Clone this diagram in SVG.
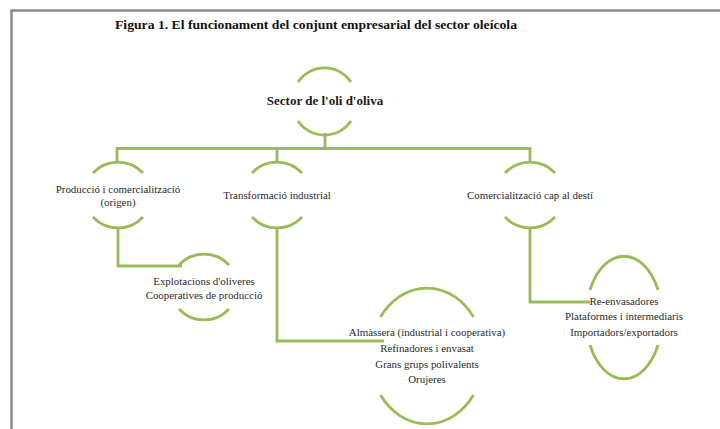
<svg xmlns="http://www.w3.org/2000/svg" width="720" height="429" viewBox="0 0 720 429">
<style>
.arc{fill:none;stroke:#9bbb59;stroke-width:2.8}
.con{fill:none;stroke:#9bbb59;stroke-width:2.8}
.t{font-family:"Liberation Serif","Times New Roman",serif;font-size:10.9px;fill:#2a2a2a;text-anchor:middle}
.b{font-weight:bold;font-size:13px;fill:#1a1a1a}
.title{font-family:"Liberation Serif","Times New Roman",serif;font-weight:bold;font-size:13px;fill:#111}
</style>
<rect width="720" height="429" fill="#fff"/>
<path d="M11.5 429 V10.5 H720" fill="none" stroke="#8a8a8a" stroke-width="2.5"/>
<text class="title" x="115" y="29" textLength="402" lengthAdjust="spacingAndGlyphs">Figura 1. El funcionament del conjunt empresarial del sector oleícola</text>
<g id="connectors">
<path class="con" d="M325 133 V148.5 M117 162 V148.5 H530 V162 M277 148.5 V162"/>
<path class="con" d="M118 228 V266 H182"/>
<path class="con" d="M277 228 V341 H384"/>
<path class="con" d="M530 228 V302 H590"/>
</g>
<g id="n-sector">
<path class="arc" d="M298 82 A32 32 0 0 1 351 82"/>
<path class="arc" d="M298 121 A32 32 0 0 0 351 121"/>
<text class="t b" x="325" y="105">Sector de l'oli d'oliva</text>
</g>
<g id="n-produccio">
<path class="arc" d="M93 173 A34 34 0 0 1 143 173"/>
<path class="arc" d="M93 217 A34 34 0 0 0 143 217"/>
<text class="t" x="118" y="193">Producció i comercialització</text>
<text class="t" x="118" y="206">(origen)</text>
</g>
<g id="n-transformacio">
<path class="arc" d="M252 173 A34 34 0 0 1 302 173"/>
<path class="arc" d="M252 217 A34 34 0 0 0 302 217"/>
<text class="t" x="277" y="199">Transformació industrial</text>
</g>
<g id="n-comercialitzacio">
<path class="arc" d="M505 173 A34 34 0 0 1 555 173"/>
<path class="arc" d="M505 217 A34 34 0 0 0 555 217"/>
<text class="t" x="530" y="199">Comercialització cap al destí</text>
</g>
<g id="n-explotacions">
<path class="arc" d="M179 265 A34 34 0 0 1 229 265"/>
<path class="arc" d="M179 309 A34 34 0 0 0 229 309"/>
<text class="t" x="204" y="285">Explotacions d'oliveres</text>
<text class="t" x="204" y="299">Cooperatives de producció</text>
</g>
<g id="n-almassera">
<path class="arc" d="M380.5 317 A57 68.5 0 0 1 473.5 317"/>
<path class="arc" d="M380.5 395 A57 68.5 0 0 0 473.5 395"/>
<text class="t" x="427" y="336">Almàssera (industrial i cooperativa)</text>
<text class="t" x="427" y="352">Refinadores i envasat</text>
<text class="t" x="427" y="368">Grans grups polivalents</text>
<text class="t" x="427" y="383">Orujeres</text>
</g>
<g id="n-reenvasadores">
<path class="arc" d="M590 290 A38 61 0 0 1 658 290"/>
<path class="arc" d="M590 345 A38 61 0 0 0 658 345"/>
<text class="t" x="624" y="305">Re-envasadores</text>
<text class="t" x="624" y="320">Plataformes i intermediaris</text>
<text class="t" x="624" y="336">Importadors/exportadors</text>
</g>
</svg>
